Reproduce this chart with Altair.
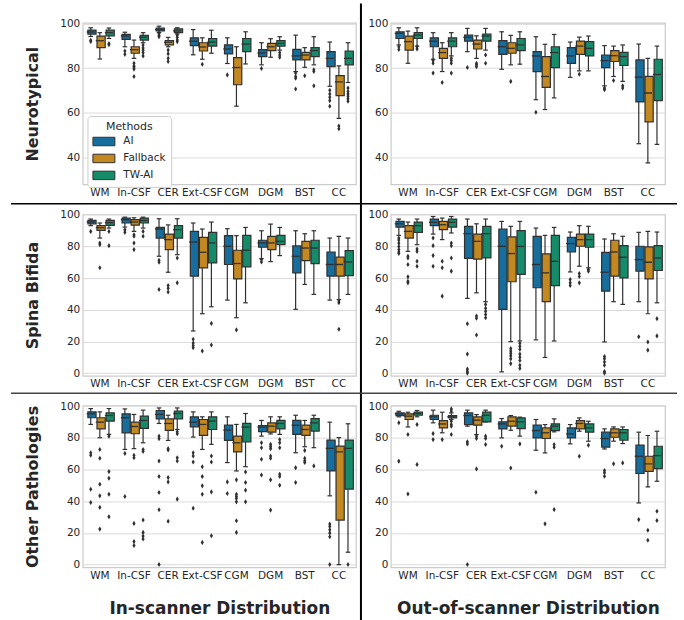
import altair as alt
import pandas as pd

CATS = ["WM", "In-CSF", "CER", "Ext-CSF", "CGM", "DGM", "BST", "CC"]
METHODS = ["AI", "Fallback", "TW-AI"]
COLORS = ["#176d9c", "#c38820", "#168b6a"]
GRAY = "#303030"
TXT = "#262626"

# box statistics per category: (lower whisker, q1, median, q3, upper whisker)
# ---- Neurotypical, in-scanner
NT_IN_AI = [(94.2, 95.2, 96.2, 97.0, 98.1), (89.6, 92.9, 94.4, 95.1, 96.1), (96.0, 96.7, 97.3, 97.9, 98.8), (86.0, 90.1, 92.1, 93.6, 97.3),
            (82.1, 86.4, 88.6, 90.4, 93.6), (81.5, 85.2, 86.8, 88.3, 91.4), (78.5, 83.7, 85.5, 88.4, 94.8), (71.9, 80.7, 84.4, 87.4, 91.7)]
NT_IN_FB = [(84.1, 89.2, 92.3, 94.4, 95.9), (84.4, 86.7, 88.3, 89.6, 92.6), (89.6, 90.4, 91.6, 92.3, 93.8), (84.0, 87.7, 89.5, 91.4, 93.6),
            (63.0, 72.6, 80.3, 84.7, 89.6), (84.9, 87.9, 89.6, 91.1, 93.2), (80.4, 83.7, 85.9, 87.1, 89.2), (57.5, 67.7, 73.9, 76.7, 81.0)]
NT_IN_TW = [(93.3, 94.5, 95.9, 97.0, 98.0), (91.4, 92.6, 93.9, 94.7, 95.9), (95.3, 95.9, 96.7, 97.6, 98.1), (86.7, 89.9, 91.7, 93.3, 97.0),
            (81.9, 87.4, 90.8, 93.3, 96.3), (88.1, 89.9, 91.1, 92.3, 94.1), (81.5, 85.2, 87.9, 89.2, 94.1), (73.6, 81.5, 84.4, 87.7, 91.4)]
NT_IN_AI_FL = [[92.5, 92.0], [87.7, 86.2], [95.6, 94.8, 94.1], [], [77.0], [79.9], [77.8, 76.3, 75.5, 70.7], [70.1, 68.5, 67.0, 65.5, 63.0]]
NT_IN_FB_FL = [[], [82.2, 81.0, 80.5, 79.6, 76.3], [88.1, 86.5, 84.4, 83.0], [81.8], [], [], [76.6], [54.1, 52.9]]
NT_IN_TW_FL = [[91.0, 90.5], [90.4, 89.0, 88.0, 86.9, 85.5], [94.8, 93.8, 92.6, 91.9], [], [], [87.0, 85.9, 84.9], [79.3, 78.5, 72.1],
               [71.1, 69.6, 68.5, 67.4, 66.3, 65.2]]

# ---- Neurotypical, out-of-scanner
NT_OUT_AI = [(90.4, 93.3, 95.6, 96.3, 98.1), (84.0, 89.6, 92.1, 93.6, 95.9), (87.4, 92.1, 93.8, 94.8, 97.8), (79.5, 86.2, 89.6, 92.3, 96.3),
             (65.9, 78.5, 85.5, 87.4, 94.1), (75.9, 82.2, 85.5, 89.2, 91.7), (72.1, 80.3, 83.4, 85.9, 90.1), (46.2, 64.9, 76.0, 83.7, 90.8)]
NT_OUT_FB = [(82.2, 88.1, 91.9, 94.4, 96.6), (78.5, 84.4, 87.0, 88.9, 91.4), (84.4, 88.6, 90.8, 92.6, 94.5), (81.5, 86.7, 88.9, 91.4, 94.7),
             (61.5, 71.4, 76.3, 85.2, 90.7), (78.8, 86.2, 89.9, 92.1, 93.9), (76.3, 83.0, 85.6, 87.9, 89.9), (37.6, 56.0, 68.9, 76.3, 84.4)]
NT_OUT_TW = [(89.9, 93.3, 94.8, 95.9, 98.1), (85.5, 89.6, 92.1, 93.6, 95.9), (88.1, 92.1, 94.4, 95.3, 97.8), (81.8, 87.9, 90.4, 93.3, 96.3),
             (66.7, 80.3, 87.0, 89.6, 95.1), (78.8, 85.5, 88.9, 91.9, 94.4), (74.1, 81.2, 85.2, 87.1, 90.4), (45.9, 65.5, 77.2, 84.0, 89.9)]
NT_OUT_AI_FL = [[89.6, 88.4], [83.4, 82.2, 77.8], [80.3], [], [60.3], [], [71.1, 70.4], []]
NT_OUT_FB_FL = [[], [73.6], [82.2, 81.5, 80.7], [74.1], [], [77.3], [74.5], []]
NT_OUT_TW_FL = [[89.6, 88.6], [84.4, 83.4, 82.2, 77.8], [85.9, 82.2], [], [], [], [72.1, 71.1], []]

# ---- Spina Bifida, in-scanner
SB_IN_AI = [(93.1, 94.3, 95.4, 96.4, 97.3), (92.2, 94.8, 96.9, 97.9, 98.5), (73.8, 85.3, 91.0, 92.0, 97.5), (26.6, 61.2, 82.8, 89.5, 94.8),
            (46.1, 68.6, 80.1, 86.8, 91.2), (72.3, 79.5, 82.2, 83.9, 89.9), (40.3, 63.3, 73.8, 80.3, 89.9), (46.1, 61.2, 68.6, 76.5, 85.3)]
SB_IN_FB = [(85.3, 90.1, 91.8, 93.1, 94.8), (89.5, 93.5, 95.4, 96.9, 98.1), (63.7, 78.0, 84.3, 87.8, 93.6), (37.5, 66.5, 76.3, 85.7, 91.0),
            (35.0, 59.5, 69.2, 77.6, 86.8), (70.4, 78.0, 82.2, 86.4, 94.1), (56.0, 71.1, 79.0, 83.2, 88.0), (46.5, 61.2, 68.6, 73.2, 86.4)]
SB_IN_TW = [(91.6, 93.3, 95.0, 96.4, 97.3), (91.6, 94.8, 96.4, 97.9, 98.5), (74.8, 85.3, 90.6, 93.1, 97.5), (41.9, 69.6, 82.2, 88.9, 95.4),
            (44.4, 67.1, 77.6, 87.0, 92.0), (74.2, 81.1, 83.2, 87.0, 92.0), (49.7, 69.2, 79.0, 83.9, 89.9), (49.7, 61.6, 70.2, 77.4, 85.3)]
SB_IN_AI_FL = [[89.5], [90.6, 88.9], [71.3, 70.0, 52.8], [21.4, 19.0, 17.5, 16.1], [], [71.7, 70.2], [], []]
SB_IN_FB_FL = [[82.2, 81.1, 66.5], [87.4, 86.4, 82.2, 78.0], [55.3, 53.6, 51.2], [14.0], [27.3], [], [], [45.5, 44.4, 27.7]]
SB_IN_TW_FL = [[89.5, 80.5], [89.5, 86.4], [72.7, 57.0], [31.4, 17.8], [], [], [], []]

# ---- Spina Bifida, out-of-scanner
SB_OUT_AI = [(87.0, 92.2, 94.3, 95.8, 97.3), (87.8, 93.1, 95.2, 97.3, 98.9), (47.2, 72.5, 88.1, 92.7, 97.3), (0.8, 40.3, 80.1, 91.0, 95.8),
             (21.0, 53.9, 68.6, 86.4, 91.6), (63.9, 76.5, 81.8, 85.7, 89.1), (19.7, 51.8, 63.7, 76.3, 84.7), (45.1, 64.4, 71.7, 80.1, 88.9)]
SB_OUT_FB = [(76.9, 85.3, 89.5, 93.1, 95.4), (84.3, 90.6, 93.7, 95.8, 97.9), (50.7, 72.0, 83.2, 87.8, 94.3), (19.9, 57.7, 75.5, 86.0, 92.7),
             (9.9, 45.1, 63.3, 75.3, 87.0), (67.5, 80.1, 84.3, 87.8, 93.1), (45.1, 61.2, 76.5, 83.9, 88.0), (37.5, 59.5, 70.0, 79.7, 89.5)]
SB_OUT_TW = [(81.1, 88.9, 93.1, 95.4, 97.3), (88.5, 92.2, 95.2, 97.3, 98.9), (45.1, 72.8, 88.1, 92.7, 97.3), (20.3, 62.3, 80.1, 90.0, 95.8),
             (20.3, 55.3, 70.6, 87.0, 92.0), (66.5, 79.5, 84.3, 87.8, 92.7), (43.4, 60.2, 73.2, 80.5, 86.4), (44.4, 64.8, 72.7, 80.5, 89.1)]
SB_OUT_AI_FL = [[85.3, 84.0, 82.0, 80.0, 78.0, 76.5, 75.5], [85.3, 80.5, 74.2, 67.5], [31.2, 12.0, 2.5, 1.0, 0.0], [], [],
                [59.1, 57.0, 55.3], [10.5, 9.0, 7.0, 5.0, 1.0, 0.0], [23.0]]
SB_OUT_FB_FL = [[73.8, 72.7, 68.6, 60.8, 58.0, 57.0], [70.6, 66.5, 48.6], [36.0, 34.6, 24.1], [15.5, 14.0, 12.5, 11.0, 9.0, 6.0], [],
                [62.9, 61.0, 57.0], [], [19.7, 14.5]]
SB_OUT_TW_FL = [[78.4, 76.9, 70.6, 67.5], [82.2, 80.5, 72.7, 64.4], [43.4, 41.0, 39.0, 37.0, 35.0],
                [18.9, 17.0, 15.0, 12.0, 10.0, 8.0, 5.0, 3.0], [], [65.4, 64.4], [], [34.4, 23.5]]

# ---- Other Pathologies, in-scanner
OP_IN_AI = [(88.5, 92.7, 95.2, 96.4, 98.5), (72.7, 83.2, 92.7, 95.2, 98.3), (89.1, 92.0, 94.8, 97.3, 98.9), (80.5, 87.0, 89.9, 93.3, 96.4),
            (64.4, 78.4, 84.9, 88.0, 93.3), (81.1, 83.9, 86.8, 87.8, 91.0), (70.6, 82.2, 88.0, 91.0, 94.3), (43.4, 59.1, 73.4, 78.6, 89.9)]
OP_IN_FB = [(80.1, 85.7, 89.9, 92.7, 96.4), (73.2, 82.6, 87.2, 89.9, 94.8), (78.4, 84.7, 89.1, 92.0, 94.3), (72.7, 81.6, 88.5, 91.6, 93.3),
            (59.1, 71.1, 76.9, 81.1, 88.5), (82.5, 83.6, 87.4, 89.5, 93.3), (74.4, 81.6, 85.3, 88.0, 91.0), (0.0, 28.1, 71.1, 74.8, 80.1)]
OP_IN_TW = [(82.2, 90.6, 94.1, 95.8, 98.5), (76.9, 86.0, 91.0, 93.7, 97.5), (85.3, 92.0, 95.4, 96.9, 98.9), (75.9, 85.3, 90.6, 93.3, 96.4),
            (61.8, 77.4, 86.8, 89.1, 95.4), (82.2, 85.7, 89.1, 91.0, 93.3), (73.8, 84.3, 89.5, 92.2, 94.3), (7.8, 47.6, 73.4, 78.6, 88.9)]
OP_IN_AI_FL = [[70.6, 69.0, 47.6, 39.2], [70.2, 43.0], [81.1, 79.5, 65.4, 55.6, 45.5, 34.6, 0.0], [70.6, 68.6, 64.8, 35.6], [52.2, 44.9],
               [76.9, 73.8, 66.5, 56.6], [61.2, 51.8], [25.6, 24.0, 22.0, 20.0, 17.6, 0.0]]
OP_IN_FB_FL = [[72.7, 67.1, 50.7, 43.4, 36.1, 22.4], [69.0, 67.5, 26.0, 14.5, 12.0], [73.2, 72.3, 54.9, 52.2, 27.3],
               [61.8, 55.6, 49.7, 44.4, 14.0], [53.5, 44.4, 43.0, 41.7, 39.6, 27.7, 20.3], [75.9, 74.5, 73.2, 68.6, 67.1, 53.5, 34.4],
               [72.1, 67.1, 65.5, 64.4], []]
OP_IN_TW_FL = [[81.1, 58.7, 54.5, 44.4, 30.2], [72.7, 71.5, 28.1, 20.3, 18.0, 16.1], [83.9, 82.6, 67.5, 65.4, 41.3],
               [68.6, 64.8, 45.9, 18.2], [58.5, 51.8, 47.0, 39.6], [79.0, 77.0, 73.8, 57.0, 55.6, 50.1], [62.3], [0.0]]

# ---- Other Pathologies, out-of-scanner
OP_OUT_AI = [(93.3, 94.1, 95.2, 95.8, 96.8), (89.5, 91.6, 93.3, 94.3, 97.5), (87.4, 88.4, 94.1, 95.8, 97.5), (80.0, 85.7, 88.8, 90.1, 92.2),
             (72.2, 80.0, 84.6, 88.0, 91.6), (76.2, 80.0, 82.5, 86.3, 88.4), (73.0, 74.1, 79.6, 83.6, 85.7), (38.9, 57.5, 68.4, 75.4, 83.6)]
OP_OUT_FB = [(86.9, 91.6, 93.7, 95.2, 96.2), (83.2, 86.3, 88.8, 90.9, 96.2), (82.1, 88.0, 91.2, 93.3, 94.7), (84.8, 87.4, 90.5, 93.3, 94.1),
             (70.5, 79.6, 83.2, 86.3, 88.4), (84.2, 85.7, 89.1, 90.9, 92.6), (77.9, 80.4, 83.2, 85.7, 86.9), (49.0, 58.9, 63.6, 68.4, 81.5)]
OP_OUT_TW = [(93.3, 94.3, 95.4, 96.2, 97.3), (91.6, 92.6, 93.3, 94.1, 95.8), (90.1, 90.1, 94.3, 96.2, 97.5), (81.1, 85.9, 90.1, 92.6, 93.1),
             (83.8, 84.6, 87.4, 88.8, 92.0), (77.9, 83.6, 86.3, 88.8, 90.5), (76.4, 78.5, 83.2, 85.3, 86.9), (52.6, 60.6, 68.8, 74.7, 84.2)]
OP_OUT_AI_FL = [[89.5, 65.3], [82.7, 78.9], [77.5, 76.2, 0.0], [74.7], [45.7], [], [59.4, 57.9, 55.8], [28.4]]
OP_OUT_FB_FL = [[82.1, 44.6], [78.9], [81.1, 79.6, 60.4], [61.0], [25.7], [68.4], [63.6], [21.7, 15.4]]
OP_OUT_TW_FL = [[88.4, 63.2], [98.3, 97.0, 90.5, 88.5, 87.4, 82.1], [81.1, 79.6, 75.8], [76.2], [75.8, 74.1, 34.7], [75.4], [64.2],
                [33.7, 27.8]]

ROW_TITLES = ["Neurotypical", "Spina Bifida", "Other Pathologies"]
COL_TITLES = ["In-scanner Distribution", "Out-of-scanner Distribution"]
Y_TICKS_TOP = [40, 60, 80, 100]
Y_TICKS = [0, 20, 40, 60, 80, 100]

# ---------------- layout constants (pixels)
OX, OY = 82, 19.5          # top-left plot origin on the page
W_L, W_R, H = 274, 275, 162
COL_GAP, ROW_GAP = 35, 30
PAGE_W, PAGE_H = 684, 620

DIAMOND = "M0,-1L0.62,0L0,1L-0.62,0Z"
SWATCH = "M-2.2,-0.85L2.2,-0.85L2.2,0.85L-2.2,0.85Z"


def frames(stats, fliers):
    rows, fl = [], []
    for m, st, fls in zip(METHODS, stats, fliers):
        for c, s, f in zip(CATS, st, fls):
            lo, q1, md, q3, hi = s
            rows.append(dict(cat=c, method=m, lo=lo, q1=q1, med=md, q3=q3, hi=hi))
            for v in f:
                fl.append(dict(cat=c, method=m, v=v))
    return pd.DataFrame(rows), pd.DataFrame(fl, columns=["cat", "method", "v"])


def panel(stats, fliers, ydom, yticks, w, ytitle=None, xtitle=None, extras=False):
    st, fl = frames(stats, fliers)
    xax = dict(labelAngle=0, labelFontSize=10.5, labelColor=TXT, labelPadding=3, ticks=False, domain=False, grid=False,
               labelFont="DejaVu Sans")
    if xtitle:
        xax.update(title=xtitle, titleFontSize=17, titleFontWeight="bold", titleColor=TXT, titleX=w / 2, titleY=41,
                   titleBaseline="middle", titleAlign="center", titleFont="DejaVu Sans")
    else:
        xax.update(title=None)
    yax = dict(values=yticks, labelFontSize=10.5, labelColor=TXT, labelPadding=3, ticks=False, domain=False, grid=True,
               gridColor="#dadada", gridWidth=1, labelFont="DejaVu Sans")
    if ytitle:
        yax.update(title=ytitle, titleFontSize=16, titleFontWeight="bold", titleColor=TXT, titleX=-50, titleY=H / 2,
                   titleAngle=270, titleAlign="center", titleBaseline="middle", titleFont="DejaVu Sans")
    else:
        yax.update(title=None)

    x = alt.X("cat:N", sort=CATS, scale=alt.Scale(domain=CATS, paddingInner=0, paddingOuter=0), axis=alt.Axis(**xax))
    xo = alt.XOffset("method:N", scale=alt.Scale(domain=METHODS, paddingInner=0, paddingOuter=0.375))
    ys = alt.Scale(domain=ydom, nice=False, zero=False)

    def Y(f):
        return alt.Y(f, type="quantitative", scale=ys, axis=alt.Axis(**yax))

    legend = alt.Legend(title="Methods", orient="none", legendX=4.7, legendY=93.5, symbolType=SWATCH, symbolSize=100,
                        symbolStrokeColor=GRAY, symbolStrokeWidth=1, symbolOpacity=1, symbolOffset=6,
                        labelFontSize=10.5, labelColor=TXT, labelOffset=14, titleFontSize=11, titleFontWeight="normal",
                        titleColor=TXT, titleAnchor="middle", titlePadding=4, rowPadding=4, padding=5,
                        fillColor="white", strokeColor="#cccccc", cornerRadius=3, labelFont="DejaVu Sans",
                        titleFont="DejaVu Sans")

    base = alt.Chart(st)
    whisk = base.mark_rule(color=GRAY, strokeWidth=1.2).encode(x=x, xOffset=xo, y=Y("lo"), y2="hi:Q")
    box = base.mark_bar(width=alt.RelativeBandSize(0.9), stroke=GRAY, strokeWidth=1.2, opacity=1).encode(
        x=x, xOffset=xo, y=Y("q1"), y2="q3:Q",
        color=alt.Color("method:N", scale=alt.Scale(domain=METHODS, range=COLORS), legend=legend))
    med = base.mark_tick(color=GRAY, size=8.2, thickness=1.3, opacity=1).encode(x=x, xOffset=xo, y=Y("med"))
    cap_lo = base.mark_tick(color=GRAY, size=4.6, thickness=1.2, opacity=1).encode(x=x, xOffset=xo, y=Y("lo"))
    cap_hi = base.mark_tick(color=GRAY, size=4.6, thickness=1.2, opacity=1).encode(x=x, xOffset=xo, y=Y("hi"))
    pts = alt.Chart(fl).mark_point(shape=DIAMOND, filled=True, color=GRAY, size=26, opacity=1, strokeWidth=0).encode(
        x=x, xOffset=xo, y=Y("v"))
    layers = [whisk, box, med, cap_lo, cap_hi, pts]
    if extras:
        d = alt.Chart(pd.DataFrame({"k": [0]}))
        # invisible full-page extent so the page is exactly PAGE_W x PAGE_H with this plot at (OX, OY)
        layers.append(d.mark_rule(opacity=0, strokeWidth=0.01).encode(
            x=alt.value(-OX), x2=alt.value(PAGE_W - OX), y=alt.value(-OY), y2=alt.value(PAGE_H - OY)))
        layers.append(d.mark_rule(color="black", strokeWidth=2).encode(
            x=alt.value(361 - OX), y=alt.value(-OY), y2=alt.value(PAGE_H - OY)))
        layers.append(d.mark_rule(color="black", strokeWidth=1.5).encode(
            x=alt.value(10 - OX), x2=alt.value(678 - OX), y=alt.value(201 - OY)))
        layers.append(d.mark_rule(color="#444444", strokeWidth=1.5).encode(
            x=alt.value(10 - OX), x2=alt.value(678 - OX), y=alt.value(391 - OY)))
    return alt.layer(*layers).properties(width=w, height=H)


TOP = [28.0, 100.3]
FULL = [-1.7, 100.3]

p1 = panel((NT_IN_AI, NT_IN_FB, NT_IN_TW), (NT_IN_AI_FL, NT_IN_FB_FL, NT_IN_TW_FL), TOP, Y_TICKS_TOP, W_L,
           ytitle=ROW_TITLES[0], extras=True)
p2 = panel((NT_OUT_AI, NT_OUT_FB, NT_OUT_TW), (NT_OUT_AI_FL, NT_OUT_FB_FL, NT_OUT_TW_FL), TOP, Y_TICKS_TOP, W_R)
p3 = panel((SB_IN_AI, SB_IN_FB, SB_IN_TW), (SB_IN_AI_FL, SB_IN_FB_FL, SB_IN_TW_FL), FULL, Y_TICKS, W_L,
           ytitle=ROW_TITLES[1])
p4 = panel((SB_OUT_AI, SB_OUT_FB, SB_OUT_TW), (SB_OUT_AI_FL, SB_OUT_FB_FL, SB_OUT_TW_FL), FULL, Y_TICKS, W_R)
p5 = panel((OP_IN_AI, OP_IN_FB, OP_IN_TW), (OP_IN_AI_FL, OP_IN_FB_FL, OP_IN_TW_FL), FULL, Y_TICKS, W_L,
           ytitle=ROW_TITLES[2], xtitle=COL_TITLES[0])
p6 = panel((OP_OUT_AI, OP_OUT_FB, OP_OUT_TW), (OP_OUT_AI_FL, OP_OUT_FB_FL, OP_OUT_TW_FL), FULL, Y_TICKS, W_R,
           xtitle=COL_TITLES[1])

chart = alt.concat(p1, p2, p3, p4, p5, p6, columns=2, spacing={"row": ROW_GAP, "column": COL_GAP},
                   bounds="flush").configure(
    padding=0, background="white", font="DejaVu Sans"
).configure_view(stroke="#cccccc", strokeWidth=1.25)

chart.save("out.html", embed_options={"renderer": "svg", "actions": False})
